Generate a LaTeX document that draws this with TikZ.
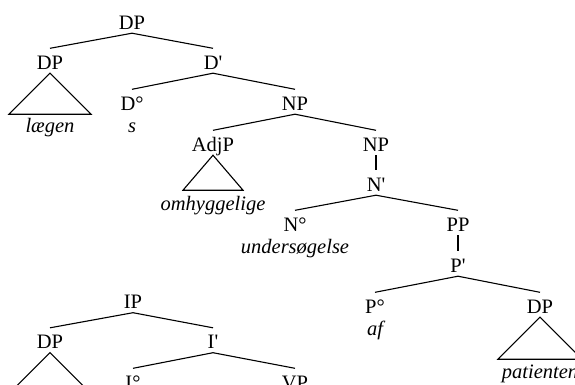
\documentclass[tikz,border=0pt]{standalone}
\usepackage{fontspec}
\setmainfont{Liberation Serif}[Ligatures=TeXOff]
\begin{document}
\begin{tikzpicture}[x=1pt,y=-1pt,
  lab/.style={font=\fontsize{20.5}{24}\selectfont, anchor=base, text height=17pt, text depth=0.5pt, inner xsep=0pt, inner ysep=3.5pt},
  word/.style={font=\fontsize{20.5}{24}\selectfont\itshape, anchor=base, inner sep=0pt},
  edge/.style={line width=1.1pt},
  tri/.style={line width=1.1pt, line join=miter}]
\useasboundingbox (0,0) rectangle (575,384);
\clip (0,0) rectangle (575,384);
% upper tree
\node[lab] (dp0) at (132,29) {DP};
\node[lab] (dp1) at (50,69) {DP};
\node[lab] (d1) at (213,69) {D'};
\node[lab] (d0) at (132,110) {D°};
\node[lab] (np1) at (295,110) {NP};
\node[lab] (adjp) at (213,151) {AdjP};
\node[lab] (np2) at (376,151) {NP};
\node[lab] (n1) at (376,191) {N'};
\node[lab] (n0) at (295,231) {N°};
\node[lab] (pp) at (458,231) {PP};
\node[lab] (p1) at (458,272) {P'};
\node[lab] (p0) at (375,313) {P°};
\node[lab] (dp2) at (540,313) {DP};
% words
\node[word] (w1) at (50,132) {lægen};
\node[word] (w2) at (132,132) {s};
\node[word] (w3) at (213,210) {omhyggelige};
\node[word] (w4) at (295,253) {undersøgelse};
\node[word] (w5) at (375,335) {af};
\node[word] (w6) at (540,378) {patienten};
% edges
\draw[edge] (dp0.south) -- (dp1.north);
\draw[edge] (dp0.south) -- (d1.north);
\draw[edge] (d1.south) -- (d0.north);
\draw[edge] (d1.south) -- (np1.north);
\draw[edge] (np1.south) -- (adjp.north);
\draw[edge] (np1.south) -- (np2.north);
\draw[edge] (np2.south) -- (n1.north);
\draw[edge] (n1.south) -- (n0.north);
\draw[edge] (n1.south) -- (pp.north);
\draw[edge] (pp.south) -- (p1.north);
\draw[edge] (p1.south) -- (p0.north);
\draw[edge] (p1.south) -- (dp2.north);
% triangles
\draw[tri] (dp1.south) -- ++(-41,41) -- ++(82,0) -- cycle;
\draw[tri] (adjp.south) -- ++(-30,35) -- ++(60,0) -- cycle;
\draw[tri] (dp2.south) -- ++(-42,42) -- ++(84,0) -- cycle;
% lower tree
\node[lab] (ip) at (133,308.5) {IP};
\node[lab] (dp3) at (50,348.5) {DP};
\node[lab] (i1) at (213,348.5) {I'};
\node[lab] (i0) at (133,389) {I°};
\node[lab] (vp) at (295,389) {VP};
\draw[edge] (ip.south) -- (dp3.north);
\draw[edge] (ip.south) -- (i1.north);
\draw[edge] (i1.south) -- (i0.north);
\draw[edge] (i1.south) -- (vp.north);
\draw[tri] (dp3.south) -- ++(-41,41) -- ++(82,0) -- cycle;
\end{tikzpicture}
\end{document}
